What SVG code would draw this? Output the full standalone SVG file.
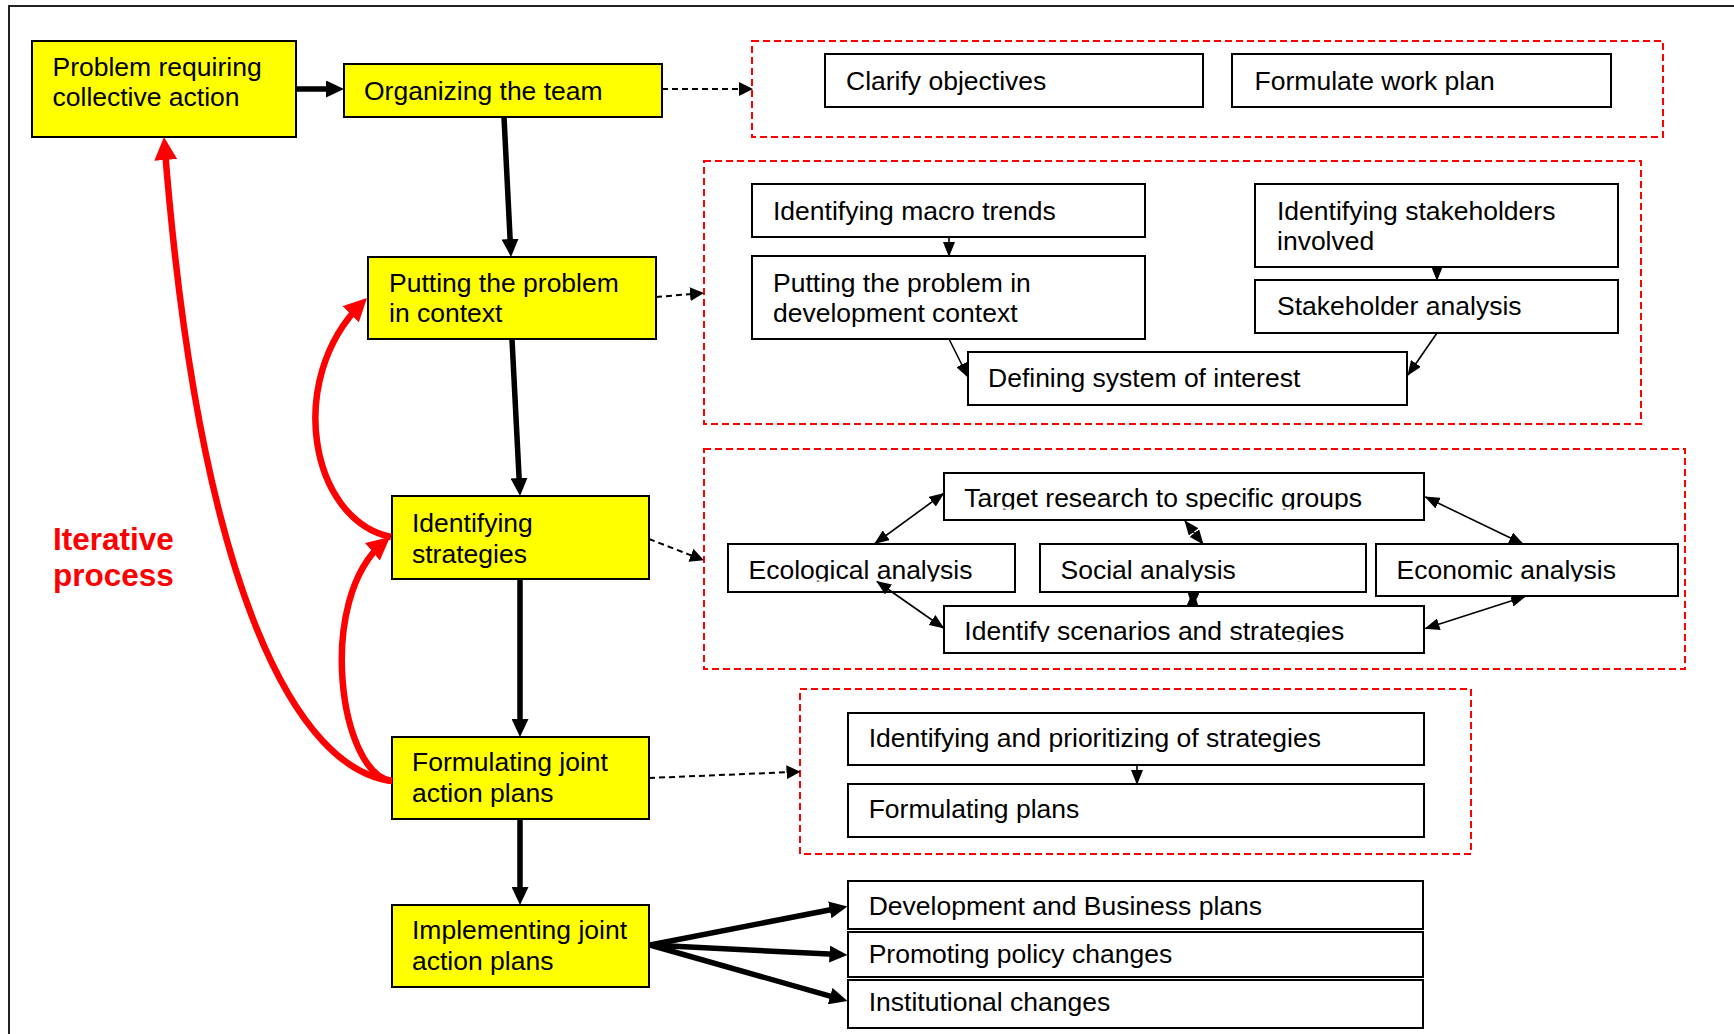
<svg xmlns="http://www.w3.org/2000/svg" width="1734" height="1034" viewBox="0 0 1734 1034">
<style>
text{font-family:"Liberation Sans",Arial,sans-serif;font-size:26.5px;fill:#000}
.y{fill:#ffff00;stroke:#000;stroke-width:2}
.w{fill:#fff;stroke:#000;stroke-width:2}
.grp{fill:none;stroke:#ff0000;stroke-width:2;stroke-dasharray:7 4}
.thick{fill:none;stroke:#000;stroke-width:5.5}
.dash{fill:none;stroke:#000;stroke-width:2;stroke-dasharray:6 4}
.thin{fill:none;stroke:#000;stroke-width:1.6}
.red{fill:none;stroke:#ff0000;stroke-width:6.5}
.it{font-weight:bold;font-size:31.5px;fill:#ff0000}
</style>
<defs>
<marker id="ahT" markerUnits="userSpaceOnUse" markerWidth="18" markerHeight="17" refX="10" refY="8.5" orient="auto"><path d="M0,0 L18,8.5 L0,17 Z" fill="#000"/></marker>
<marker id="ahR" markerUnits="userSpaceOnUse" markerWidth="23" markerHeight="23" refX="15" refY="11.5" orient="auto"><path d="M0,0 L23,11.5 L0,23 Z" fill="#ff0000"/></marker>
<marker id="ahD" markerUnits="userSpaceOnUse" markerWidth="14" markerHeight="14" refX="13" refY="7" orient="auto"><path d="M0,0 L14,7 L0,14 Z" fill="#000"/></marker>
<marker id="ahS" markerUnits="userSpaceOnUse" markerWidth="15" markerHeight="12" refX="14" refY="6" orient="auto-start-reverse"><path d="M0,0 L15,6 L0,12 Z" fill="#000"/></marker>
<clipPath id="cT"><rect x="944" y="473" width="480" height="36.5"/></clipPath>
<clipPath id="cE"><rect x="728" y="544" width="950" height="37.5"/></clipPath>
<clipPath id="cI"><rect x="944" y="606" width="480" height="36"/></clipPath>
</defs>

<path d="M9,1034 V6 H1734" fill="none" stroke="#222" stroke-width="2"/>

<g id="groups">
<rect id="g1" class="grp" x="752" y="41" width="911" height="96"/>
<rect id="g2" class="grp" x="704" y="161" width="937" height="263"/>
<rect id="g3" class="grp" x="704" y="449" width="981" height="220"/>
<rect id="g4" class="grp" x="800" y="689" width="671" height="165"/>
</g>

<g id="n-problem"><rect class="y" x="32" y="41" width="264" height="96"/><text x="52.5" y="76">Problem requiring</text><text x="52.5" y="106">collective action</text></g>
<g id="n-organizing"><rect class="y" x="344" y="64" width="318" height="53"/><text x="364" y="100">Organizing the team</text></g>
<g id="n-putting"><rect class="y" x="368" y="257" width="288" height="82"/><text x="389" y="291.7">Putting the problem</text><text x="389" y="322.3">in context</text></g>
<g id="n-identstrat"><rect class="y" x="392" y="496" width="257" height="83"/><text x="412" y="532">Identifying</text><text x="412" y="563">strategies</text></g>
<g id="n-formulating"><rect class="y" x="392" y="737" width="257" height="82"/><text x="412" y="771">Formulating joint</text><text x="412" y="801.7">action plans</text></g>
<g id="n-implementing"><rect class="y" x="392" y="905" width="257" height="82"/><text x="412" y="939">Implementing joint</text><text x="412" y="970">action plans</text></g>

<g id="n-clarify"><rect class="w" x="825" y="54" width="378" height="53"/><text x="846" y="90">Clarify objectives</text></g>
<g id="n-workplan"><rect class="w" x="1232" y="54" width="379" height="53"/><text x="1254.6" y="90">Formulate work plan</text></g>
<g id="n-macro"><rect class="w" x="752" y="184" width="393" height="53"/><text x="773" y="220">Identifying macro trends</text></g>
<g id="n-putdev"><rect class="w" x="752" y="256" width="393" height="83"/><text x="773" y="291.7">Putting the problem in</text><text x="773" y="321.7">development context</text></g>
<g id="n-stakeinv"><rect class="w" x="1255" y="184" width="363" height="83"/><text x="1277" y="220">Identifying stakeholders</text><text x="1277" y="250">involved</text></g>
<g id="n-stakean"><rect class="w" x="1255" y="280" width="363" height="53"/><text x="1277" y="315">Stakeholder analysis</text></g>
<g id="n-defining"><rect class="w" x="968" y="352" width="439" height="53"/><text x="988" y="387.3">Defining system of interest</text></g>

<g id="n-target"><rect class="w" x="944" y="473" width="480" height="47"/><text x="964.3" y="506.7" clip-path="url(#cT)">Target research to specific groups</text></g>
<g id="n-ecological"><rect class="w" x="728" y="544" width="287" height="48"/><text x="748.5" y="579" clip-path="url(#cE)">Ecological analysis</text></g>
<g id="n-social"><rect class="w" x="1040" y="544" width="326" height="48"/><text x="1060.5" y="579" clip-path="url(#cE)">Social analysis</text></g>
<g id="n-economic"><rect class="w" x="1376" y="544" width="302" height="52"/><text x="1396.5" y="578.5" clip-path="url(#cE)">Economic analysis</text></g>
<g id="n-scenarios"><rect class="w" x="944" y="606" width="480" height="47"/><text x="964.3" y="640" clip-path="url(#cI)">Identify scenarios and strategies</text></g>

<g id="n-prioritizing"><rect class="w" x="848" y="713" width="576" height="52"/><text x="868.7" y="746.7">Identifying and prioritizing of strategies</text></g>
<g id="n-formplans"><rect class="w" x="848" y="784" width="576" height="53"/><text x="868.7" y="818.3">Formulating plans</text></g>

<g id="n-dev"><rect class="w" x="848" y="881" width="575" height="48"/><text x="868.7" y="915">Development and Business plans</text></g>
<g id="n-policy"><rect class="w" x="848" y="932" width="575" height="45"/><text x="868.7" y="963.3">Promoting policy changes</text></g>
<g id="n-institutional"><rect class="w" x="848" y="980" width="575" height="48"/><text x="868.7" y="1011">Institutional changes</text></g>

<g id="label-iterative"><text class="it" x="53" y="550">Iterative</text><text class="it" x="53" y="586">process</text></g>

<g id="connectors">
<path class="thick" marker-end="url(#ahT)" d="M296,89 L336,89"/>
<path class="thick" marker-end="url(#ahT)" d="M504,117 L510.6,249"/>
<path class="thick" marker-end="url(#ahT)" d="M512,339 L519.6,488"/>
<path class="thick" marker-end="url(#ahT)" d="M520,579 L520,729"/>
<path class="thick" marker-end="url(#ahT)" d="M520,819 L520,897"/>
<path class="thick" marker-end="url(#ahT)" d="M650,945 L839.6,908"/>
<path class="thick" marker-end="url(#ahT)" d="M650,945 L839.5,954.6"/>
<path class="thick" marker-end="url(#ahT)" d="M650,945 L839.8,998.8"/>

<path class="dash" marker-end="url(#ahD)" d="M662,89 L752,89"/>
<path class="dash" marker-end="url(#ahD)" d="M656,297 L703,293"/>
<path class="dash" marker-end="url(#ahD)" d="M649,539 L703,560"/>
<path class="dash" marker-end="url(#ahD)" d="M649,778 L799.5,771.7"/>

<path class="thin" marker-end="url(#ahS)" d="M949,237 L949,256"/>
<path class="thin" marker-end="url(#ahS)" d="M1437,267 L1437,280"/>
<path class="thin" marker-end="url(#ahS)" d="M949,339 L968,377"/>
<path class="thin" marker-end="url(#ahS)" d="M1437,333 L1408,375"/>
<path class="thin" marker-end="url(#ahS)" d="M1137,765 L1137,784"/>

<path class="thin" marker-start="url(#ahS)" marker-end="url(#ahS)" d="M875,543.5 L943.5,493.5"/>
<path class="thin" marker-start="url(#ahS)" marker-end="url(#ahS)" d="M1425.5,497 L1523,544"/>
<path class="thin" marker-start="url(#ahS)" marker-end="url(#ahS)" d="M877,581.5 L943.5,628"/>
<path class="thin" marker-start="url(#ahS)" marker-end="url(#ahS)" d="M1525,596.5 L1425.5,628.5"/>
<path class="thin" marker-start="url(#ahS)" marker-end="url(#ahS)" d="M1185,521 L1203,544"/>
<path class="thin" marker-start="url(#ahS)" marker-end="url(#ahS)" d="M1193.5,592 L1192.5,606.5"/>

<path class="red" marker-end="url(#ahR)" d="M392,781 C300,770 200,600 164.6,145"/>
<path class="red" marker-end="url(#ahR)" d="M392,781 C340,775 315,600 383.9,542.1"/>
<path class="red" marker-end="url(#ahR)" d="M391,537 C310,520 285,380 361.3,303.7"/>
</g>
</svg>
